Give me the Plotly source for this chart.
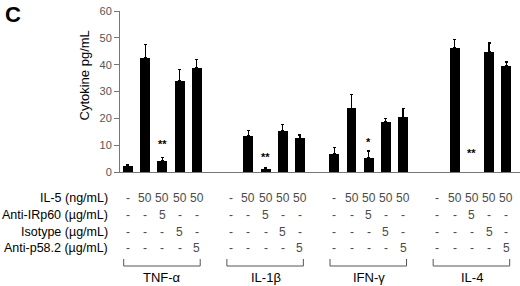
import plotly.graph_objects as go

groups = ["TNF-α", "IL-1β", "IFN-γ", "IL-4"]
means = {
    "TNF-α": [2.4, 42.6, 4.2, 34.0, 38.8],
    "IL-1β": [0, 13.4, 1.2, 15.4, 12.6],
    "IFN-γ": [6.7, 23.8, 5.3, 18.8, 20.4],
    "IL-4": [0, 46.2, 0, 44.7, 39.6],
}
errors = {
    "TNF-α": [0.5, 4.8, 1.3, 4.1, 3.0],
    "IL-1β": [0, 2.0, 0.3, 2.2, 1.2],
    "IFN-γ": [2.5, 5.2, 2.5, 1.2, 3.4],
    "IL-4": [0, 3.1, 0, 3.4, 1.4],
}
signif = {
    "TNF-α": ["", "", "**", "", ""],
    "IL-1β": ["", "", "**", "", ""],
    "IFN-γ": ["", "", "*", "", ""],
    "IL-4": ["", "", "**", "", ""],
}
signif_y = {"TNF-α": 10.4, "IL-1β": 5.6, "IFN-γ": 11.2, "IL-4": 7.1}

row_labels = ["IL-5 (ng/mL)", "Anti-IRp60 (µg/mL)", "Isotype (µg/mL)", "Anti-p58.2 (µg/mL)"]
row_values = [
    ["-", "50", "50", "50", "50"],
    ["-", "-", "5", "-", "-"],
    ["-", "-", "-", "5", "-"],
    ["-", "-", "-", "-", "5"],
]
y_ticks = [0, 10, 20, 30, 40, 50, 60]

FONT = "Liberation Sans, Arial, sans-serif"
PLOT_TOP, PLOT_BOTTOM = 11, 172
PH = PLOT_BOTTOM - PLOT_TOP

def py(p):
    return (PLOT_BOTTOM - p) / PH

xs, ys, es = [], [], []
for g, name in enumerate(groups):
    for i in range(5):
        m = means[name][i]
        if m <= 0:
            continue
        xs.append(6 * g + i)
        ys.append(m)
        es.append(errors[name][i])

fig = go.Figure()
fig.add_trace(go.Bar(
    x=xs, y=ys, width=0.58,
    marker=dict(color="black", line=dict(width=0)),
    error_y=dict(type="data", symmetric=False, array=es, arrayminus=[0] * len(es),
                 color="black", thickness=1.2, width=1.5),
    showlegend=False, hoverinfo="skip",
))

ann = []
shapes = []
row_py = [198, 215, 232, 248]
for g, name in enumerate(groups):
    for i in range(5):
        if signif[name][i]:
            ann.append(dict(x=6 * g + i, y=signif_y[name], xref="x", yref="y",
                            text="<b>" + signif[name][i] + "</b>", showarrow=False,
                            font=dict(family=FONT, size=11, color="black")))
    for r in range(4):
        for i in range(5):
            ann.append(dict(x=6 * g + i, y=py(row_py[r]), xref="x", yref="paper",
                            text=row_values[r][i], showarrow=False, yanchor="middle",
                            font=dict(family=FONT, size=12, color="#4a4a4a")))
    x0, x1 = 6 * g - 0.25, 6 * g + 4.2
    yb, yt = py(266), py(259)
    shapes.append(dict(type="line", xref="x", yref="paper", x0=x0, x1=x1, y0=yb, y1=yb,
                       line=dict(color="#555", width=1)))
    shapes.append(dict(type="line", xref="x", yref="paper", x0=x0, x1=x0, y0=yb, y1=yt,
                       line=dict(color="#555", width=1)))
    shapes.append(dict(type="line", xref="x", yref="paper", x0=x1, x1=x1, y0=yb, y1=yt,
                       line=dict(color="#555", width=1)))
    ann.append(dict(x=6 * g + 2, y=py(277), xref="x", yref="paper", text=name,
                    showarrow=False, yanchor="middle",
                    font=dict(family=FONT, size=13, color="black")))

for r, lab in enumerate(row_labels):
    ann.append(dict(x=(110 - 120) / 400, y=py(row_py[r]), xref="paper",
                    yref="paper", text=lab, showarrow=False, xanchor="right",
                    yanchor="middle", font=dict(family=FONT, size=12.5, color="black")))

ann.append(dict(x=(74 - 120) / 400, y=py(76), xref="paper", yref="paper",
                text="Cytokine pg/mL", textangle=-90, showarrow=False,
                font=dict(family=FONT, size=13, color="black")))
ann.append(dict(x=(3 - 120) / 400, y=py(0), xref="paper", yref="paper",
                text="<b>C</b>", showarrow=False, xanchor="left", yanchor="top",
                font=dict(family=FONT, size=22, color="black")))

fig.update_layout(
    width=520, height=286,
    margin=dict(l=120, r=0, t=PLOT_TOP, b=286 - PLOT_BOTTOM),
    plot_bgcolor="white", paper_bgcolor="white",
    bargap=0,
    xaxis=dict(range=[-0.465, 22.8], showticklabels=False, ticks="", showgrid=False,
               zeroline=False, showline=True, linecolor="#777", linewidth=1),
    yaxis=dict(range=[0, 60], tickvals=y_ticks, ticks="outside", ticklen=5,
               tickcolor="#777", showgrid=False, zeroline=False, showline=True,
               linecolor="#777", linewidth=1,
               tickfont=dict(family=FONT, size=11, color="#555")),
    annotations=ann, shapes=shapes,
)
fig.write_html("out.html", config={"displayModeBar": False, "staticPlot": True},
               post_script="document.body.style.margin='0';document.body.style.overflow='hidden';")
